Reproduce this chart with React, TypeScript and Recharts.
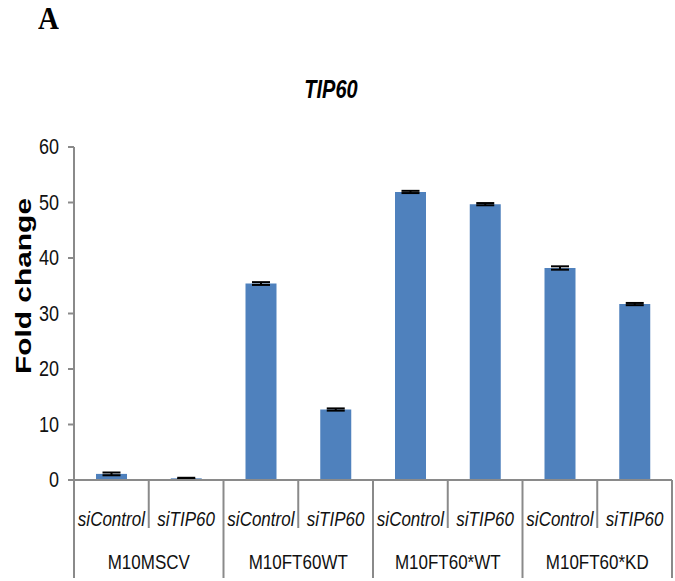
import React from 'react';
import { BarChart, Bar, XAxis, YAxis, ErrorBar } from 'recharts';

const groups = ['M10MSCV', 'M10FT60WT', 'M10FT60*WT', 'M10FT60*KD'];
const treatments = ['siControl', 'siTIP60'];
const foldChange = [1.1, 0.3, 35.4, 12.7, 51.9, 49.7, 38.2, 31.7];
const errors = [0.25, 0.1, 0.25, 0.2, 0.2, 0.2, 0.3, 0.2];
const yTicks = [0, 10, 20, 30, 40, 50, 60];

const AXIS = '#8a8a8a';
const BAR = '#4f81bd';
const FONT = "'Liberation Sans', Arial, sans-serif";

const data = foldChange.map((v, i) => ({
    key: `c${i}`,
    group: groups[Math.floor(i / 2)],
    treatment: treatments[i % 2],
    value: v,
    err: errors[i],
}));

const W = 675;
const H = 581;
const LEFT = 74;
const RIGHT = 672;
const BASE = 480;
const band = (RIGHT - LEFT) / data.length;

// text stretched a bit vertically, like the source figure
const Tall = ({ x, y, anchor = 'middle', italic = false, size = 17, children }: any) => (
    <text
        transform={`translate(${x}, ${y}) scale(1, 1.2)`}
        textAnchor={anchor}
        fontSize={size}
        fontStyle={italic ? 'italic' : 'normal'}
        fill="#111"
        fontFamily={FONT}
    >
        {children}
    </text>
);

// eslint-disable-next-line @typescript-eslint/no-explicit-any
const renderXTick = (props: any) => {
    const { x, index } = props;
    const row = data[index];
    const right = x + band / 2;
    const endOfGroup = index % 2 === 1;
    return (
        <g>
            {index === 0 && (
                <>
                    <line x1={x - band / 2 - 6} y1={BASE} x2={x - band / 2} y2={BASE} stroke={AXIS} strokeWidth={2} />
                    <line x1={x - band / 2} y1={BASE} x2={x - band / 2} y2={578} stroke={AXIS} strokeWidth={2} />
                </>
            )}
            <line x1={right} y1={BASE} x2={right} y2={endOfGroup ? 578 : 528} stroke={AXIS} strokeWidth={2} />
            <Tall x={x} y={526} italic>{row.treatment}</Tall>
            {!endOfGroup && <Tall x={right} y={569}>{row.group}</Tall>}
        </g>
    );
};

// eslint-disable-next-line @typescript-eslint/no-explicit-any
const renderYTick = (props: any) => {
    const { x, y, payload } = props;
    return <Tall x={x} y={y + 7} anchor="end" size={18}>{payload.value}</Tall>;
};

const YLabel = () => (
    <text
        x={0}
        y={0}
        transform="translate(31, 286) rotate(-90)"
        textAnchor="middle"
        fontSize={22}
        fontWeight="bold"
        fill="#000"
        textLength={176}
        lengthAdjust="spacingAndGlyphs"
        fontFamily={FONT}
    >
        Fold change
    </text>
);

export default function App() {
    return (
        <div style={{ position: 'absolute', left: 0, top: 0, width: W, height: H, background: '#fff' }}>
            <div style={{
                position: 'absolute', left: 38, top: 2, fontFamily: "'Liberation Serif', 'Times New Roman', serif",
                fontWeight: 'bold', fontSize: 29, transform: 'scaleY(1.1)',
            }}>A</div>
            <div style={{
                position: 'absolute', left: 0, width: 662, top: 78, textAlign: 'center',
                fontFamily: FONT, fontWeight: 'bold', fontStyle: 'italic',
                fontSize: 20, transform: 'scaleY(1.25)',
            }}>TIP60</div>
            <BarChart
                width={W}
                height={H}
                data={data}
                margin={{ top: 147, right: W - RIGHT, bottom: 0, left: LEFT - 60 }}
                barCategoryGap={22}
            >
                <XAxis
                    dataKey="key"
                    interval={0}
                    height={H - BASE}
                    axisLine={{ stroke: AXIS, strokeWidth: 2 }}
                    tickLine={false}
                    tick={renderXTick}
                />
                <YAxis
                    width={60}
                    domain={[0, 60]}
                    ticks={yTicks}
                    interval={0}
                    axisLine={{ stroke: AXIS, strokeWidth: 2 }}
                    tickLine={{ stroke: AXIS, strokeWidth: 2 }}
                    tickSize={6}
                    tickMargin={9}
                    tick={renderYTick}
                    label={{ content: YLabel }}
                />
                <Bar dataKey="value" fill={BAR} isAnimationActive={false}>
                    <ErrorBar dataKey="err" width={9} stroke="#000" strokeWidth={2} />
                </Bar>
            </BarChart>
        </div>
    );
}
